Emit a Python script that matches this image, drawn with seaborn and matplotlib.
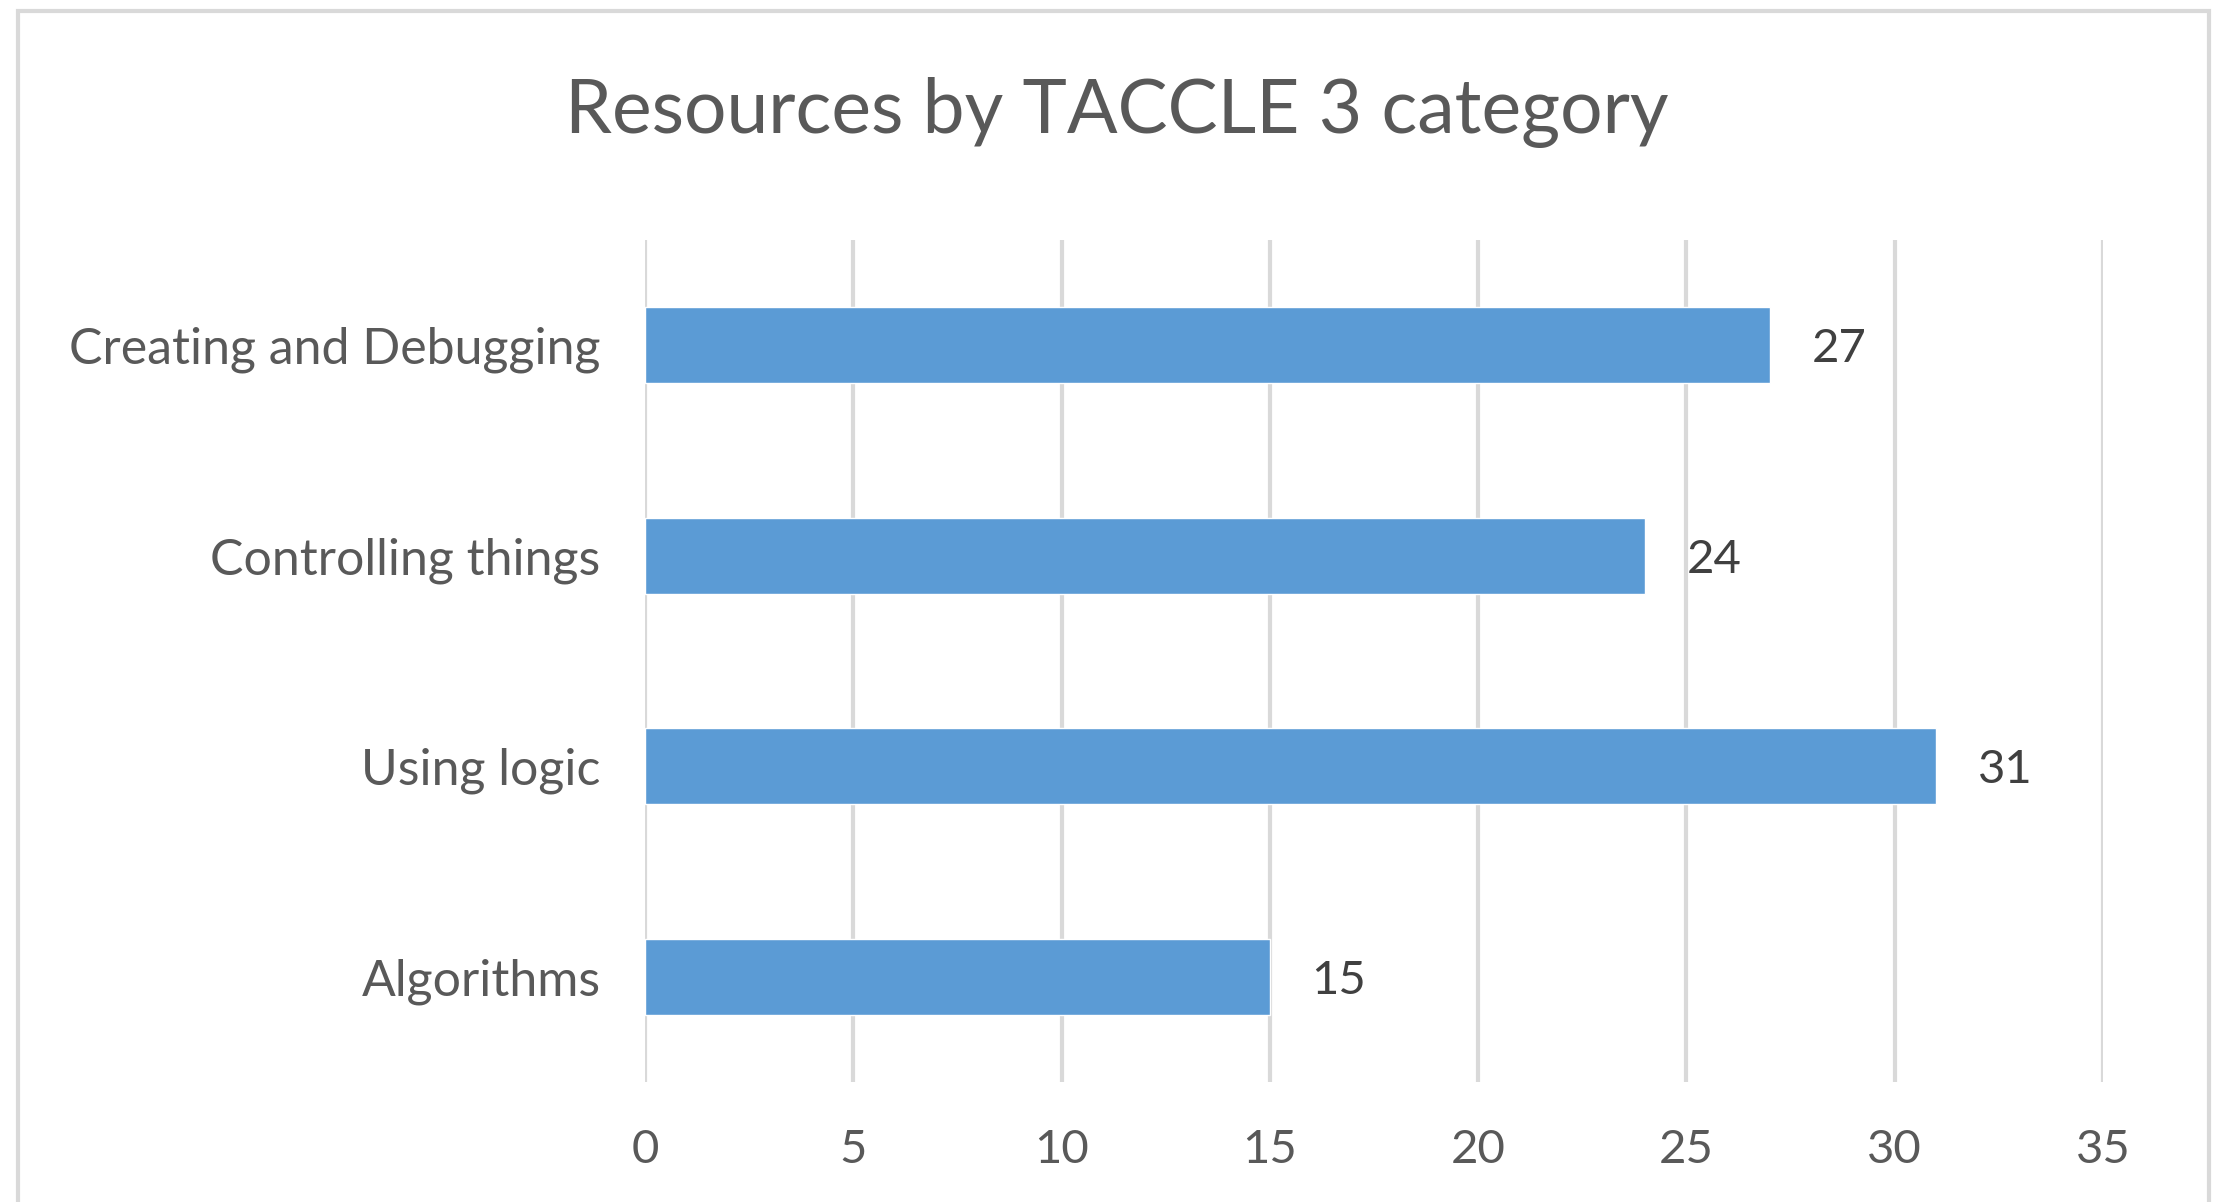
import matplotlib
matplotlib.use('Agg')
import matplotlib.pyplot as plt
from matplotlib.patches import Rectangle
import seaborn as sns

# Data
categories = ['Creating and Debugging', 'Controlling things', 'Using logic', 'Algorithms']
counts = [27, 24, 31, 15]
x_ticks = [0, 5, 10, 15, 20, 25, 30, 35]

BAR_COLOR = '#5B9BD5'
GRID_COLOR = '#D9D9D9'
TEXT_COLOR = '#595959'
LABEL_COLOR = '#404040'

sns.set_theme(style='white')
plt.rcParams['font.family'] = ['Lato', 'DejaVu Sans']

W, H = 2217, 1202
fig = plt.figure(figsize=(W / 100, H / 100), dpi=100)
ax = fig.add_axes([645 / W, 1 - 1082 / H, (2103 - 645) / W, (1082 - 240) / H])

sns.barplot(x=counts, y=categories, orient='h', color=BAR_COLOR, width=0.36,
            saturation=1, ax=ax, zorder=3)

ax.set_xlim(0, 35)
ax.set_xticks(x_ticks)
ax.set_xlabel('')
ax.set_ylabel('')
ax.grid(True, axis='x', color=GRID_COLOR, linewidth=3, zorder=0)
ax.grid(False, axis='y')
for s in ax.spines.values():
    s.set_visible(False)
ax.tick_params(axis='x', length=0, pad=34, labelsize=34, labelcolor=TEXT_COLOR)
ax.tick_params(axis='y', length=0, pad=32, labelsize=36, labelcolor=TEXT_COLOR)

for c in ax.containers:
    for t in ax.bar_label(c, padding=30, fontsize=34, color=LABEL_COLOR):
        t.xyann = (30, -3)

# outer chart frame (bottom edge falls outside the image)
fig.patches.append(Rectangle((18 / W, -0.05), (2209 - 18) / W, 1.05 - 11 / H,
                             transform=fig.transFigure, fill=False,
                             edgecolor=GRID_COLOR, linewidth=3))

fig.text(1117 / W, 1 - 112 / H, 'Resources by TACCLE 3 category',
         ha='center', va='center', fontsize=54, color=TEXT_COLOR)

fig.savefig('out.png', dpi=100, facecolor='white')
